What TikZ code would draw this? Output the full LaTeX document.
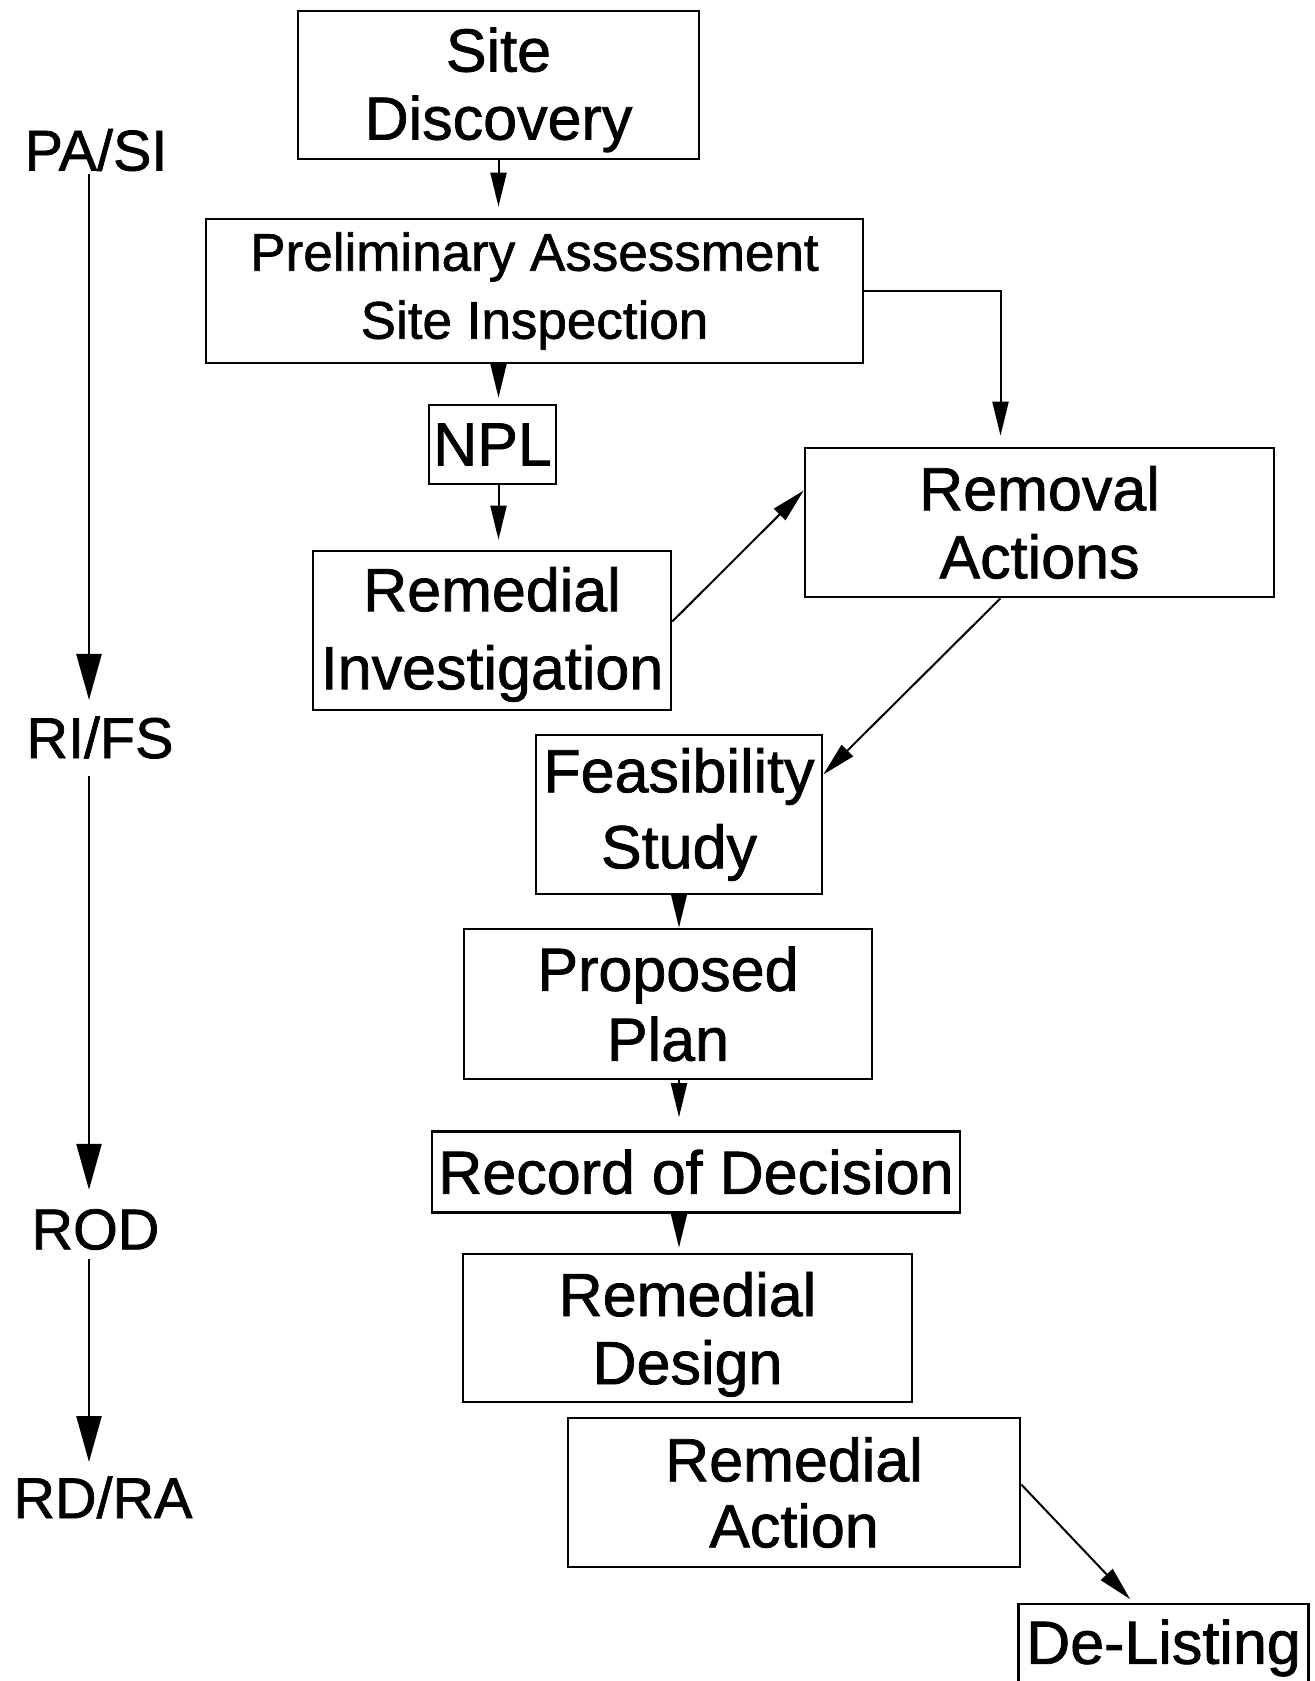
\documentclass[tikz,border=0pt]{standalone}
\usepackage{fontspec}
\setmainfont{Liberation Sans}[FakeBold=1.2]
\usepackage{tikz}
\usetikzlibrary{
  arrows.meta,%
  calc,%
  positioning
}
\tikzset{>={Triangle[length=17pt,width=8pt]}}
\tikzset{stage/.style={draw, line width=1.3pt, align=center, inner sep=1pt,
    font=\fontsize{30.5}{34}\selectfont}}
\tikzset{flow/.style={->, line width=1pt}}
\tikzset{phase/.style={-{Triangle[length=23pt,width=12.5pt]}, line width=1.3pt}}
\tikzset{phaselabel/.style={inner sep=0pt, font=\fontsize{28.75}{34}\selectfont}}

\begin{document}
\begin{tikzpicture}[x=0.5pt, y=-0.5pt]
  \useasboundingbox (0,0) rectangle (1314,1681);
  \clip (0,0) rectangle (1314,1681);

  % phases on the left
  \node[phaselabel] (lpasi) at (96,150) {PA/SI};
  \node[phaselabel] (lrifs) at (100,737.5) {RI/FS};
  \node[phaselabel] (lrod) at (95.5,1229.5) {ROD};
  \node[phaselabel] (lrdra) at (103,1497.5) {RD/RA};
  \coordinate (axis) at (89,0);
  \draw[phase, shorten <=1pt, shorten >=8pt] (lpasi.south -| axis) -- (lrifs.north -| axis);
  \draw[phase, shorten <=8.5pt, shorten >=9.5pt] (lrifs.south -| axis) -- (lrod.north -| axis);
  \draw[phase, shorten <=4.5pt, shorten >=7pt] (lrod.south -| axis) -- (lrdra.north -| axis);

  % the process boxes
  \node[stage, minimum width=200.5pt, minimum height=74pt, text depth=1.5pt] (disc) at (498.5,85) {Site\\Discovery};
  \node[stage, minimum width=328.5pt, minimum height=72pt, font=\fontsize{26.5}{34}\selectfont]
    (pasi) at (534.5,291) {Preliminary Assessment\\Site Inspection};
  \node[stage, minimum width=63.5pt, minimum height=39.5pt] (npl) at (492.5,444.5) {NPL};
  \node[stage, minimum width=179pt, minimum height=79.5pt, text depth=2.4pt, font=\fontsize{30.5}{39}\selectfont]
    (ri) at (492,630.5) {Remedial\\Investigation};
  \node[stage, minimum width=234.5pt, minimum height=74.5pt] (rem) at (1039.5,522.5) {Removal\\Actions};
  \node[stage, minimum width=143pt, minimum height=79.5pt, font=\fontsize{30.5}{38}\selectfont]
    (fs) at (679,814.5) {Feasibility\\Study};
  \node[stage, minimum width=204pt, minimum height=75pt, font=\fontsize{30.5}{35}\selectfont]
    (pp) at (668,1004) {Proposed\\Plan};
  \node[stage, minimum width=264pt, minimum height=40.5pt] (rod) at (696,1172) {Record of Decision};
  \node[stage, minimum width=224.5pt, minimum height=74pt, text depth=0pt] (rd) at (687.5,1328) {Remedial\\Design};
  \node[stage, minimum width=226pt, minimum height=74.5pt, font=\fontsize{30.5}{33}\selectfont]
    (ra) at (794,1492.5) {Remedial\\Action};
  \node[stage, minimum width=145pt, minimum height=44pt] (del) at (1163.5,1648) {De-Listing};

  % connectors
  \draw[flow, shorten >=5.5pt] (disc.south) -- (disc.south |- pasi.north);
  \draw[flow, shorten >=3pt] (pasi.south -| disc.south) -- (npl.north -| disc.south);
  \draw[flow, shorten >=5pt] (npl.south -| disc.south) -- (ri.north -| disc.south);
  \draw[flow, shorten >=5.5pt] (pasi.east) -| ([xshift=-19.5pt]rem.north);
  \draw[flow] ([yshift=4.5pt]ri.east) -- ([yshift=16pt]rem.west);
  \draw[flow] ([xshift=-19.5pt]rem.south) -- ([yshift=20pt]fs.east);
  \draw[flow] (fs.south) -- (fs.south |- pp.north);
  \draw[flow, shorten >=6.5pt] (pp.south -| fs.south) -- (rod.north -| fs.south);
  \draw[flow, shorten >=2.5pt] (rod.south -| fs.south) -- (rd.north -| fs.south);
  \draw[flow, shorten >=2.5pt] ([yshift=4pt]ra.east) -- ([xshift=-15pt]del.north);
\end{tikzpicture}
\end{document}
